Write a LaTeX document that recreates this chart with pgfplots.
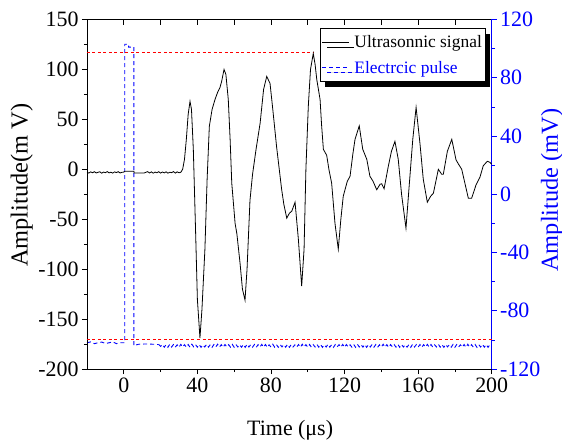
\documentclass[border=0pt]{standalone}
\usepackage{fontspec}
\setmainfont{Liberation Serif}
\usepackage{pgfplots}
\pgfplotsset{compat=1.18}
\usetikzlibrary{shadows}
\begin{document}
\begin{tikzpicture}
\pgfplotsset{
 common/.style={
  scale only axis, width=404.7bp, height=349.5bp,
  at={(0,0)}, anchor=south west,
  xmin=-20, xmax=200,
  tick label style={font=\fontsize{22}{24}\selectfont},
  major tick length=5bp, minor tick length=3bp,
  every tick/.style={line width=0.7bp},
  axis line style={line width=0.8bp},
  clip=false,
 }
}
% top axis ticks (inward)
\begin{axis}[common, ymin=0, ymax=1,
  axis x line*=top, hide y axis, tick align=inside,
  xtick={0,20,...,180}, xticklabels={}, major tick length=5.7bp,
  every tick/.style={line width=0.7bp,black}]
\end{axis}
% right axis, electric pulse
\begin{axis}[common, ymin=-120, ymax=120,
  axis y line*=right, hide x axis, tick align=outside,
  ytick={-120,-80,-40,0,40,80,120},
  yticklabels={-120,-80,-40,0,40,80,120},
  minor y tick num=1,
  y axis line style={blue, line width=0.8bp},
  every tick/.style={line width=0.7bp,blue},
  yticklabel style={text=blue},
  ylabel={Amplitude (mV)},
  every axis y label/.style={at={(axis description cs:1.149,0.512)}, rotate=90, anchor=center,
     font=\fontsize{24.5}{26}\selectfont, text=blue},
]
\addplot[blue, line width=0.9bp, dash pattern=on 4bp off 3bp] coordinates {
(-20,-102)(-18,-101.4)(-16,-102.6)(-14,-102)(-12,-101.5)(-10,-102.5)(-8,-102)(-6,-101.4)(-4,-102.6)(-2,-102)(0.5,-102)
(0.5,103)(2.6,103)(2.6,101)(5.5,101)(5.5,-104)(8,-103)(12,-102.8)(16,-103)(19,-103.2)};
\addplot[blue, line width=0.9bp, dash pattern=on 4bp off 3bp] table[row sep=\\] {
x y\\
19 -103.2\\ 20 -104.5\\ 21 -103.2\\ 22 -105\\ 23 -103.3\\ 24 -105.1\\ 25 -103\\ 26 -104.9\\ 27 -103.2\\ 28 -105\\ 29 -103.4\\
30 -105.1\\ 31 -103.1\\ 32 -104.9\\ 33 -103.3\\ 34 -105\\ 35 -103.2\\ 36 -105.1\\ 37 -103\\ 38 -104.8\\ 39 -103.3\\
40 -105\\ 41 -103.2\\ 42 -105.1\\ 43 -103.4\\ 44 -104.9\\ 45 -103.1\\ 46 -105\\ 47 -103.3\\ 48 -105.1\\ 49 -103.2\\
50 -104.9\\ 51 -103\\ 52 -105\\ 53 -103.3\\ 54 -105.1\\ 55 -103.2\\ 56 -104.8\\ 57 -103.3\\ 58 -105\\ 59 -103.1\\
60 -105.1\\ 61 -103.2\\ 62 -104.9\\ 63 -103.4\\ 64 -105\\ 65 -103.2\\ 66 -105.1\\ 67 -103\\ 68 -104.9\\ 69 -103.3\\
70 -105\\ 71 -103.2\\ 72 -105.1\\ 73 -103.3\\ 74 -104.9\\ 75 -103.1\\ 76 -105\\ 77 -103.2\\ 78 -105.1\\ 79 -103.4\\
80 -104.9\\ 81 -103\\ 82 -105\\ 83 -103.3\\ 84 -105.1\\ 85 -103.2\\ 86 -104.8\\ 87 -103.3\\ 88 -105\\ 89 -103.1\\
90 -105.1\\ 91 -103.2\\ 92 -104.9\\ 93 -103.4\\ 94 -105\\ 95 -103.2\\ 96 -105.1\\ 97 -103\\ 98 -104.9\\ 99 -103.3\\
100 -105\\ 101 -103.2\\ 102 -105.1\\ 103 -103.3\\ 104 -104.9\\ 105 -103.1\\ 106 -105\\ 107 -103.2\\ 108 -105.1\\ 109 -103.4\\
110 -104.9\\ 111 -103\\ 112 -105\\ 113 -103.3\\ 114 -105.1\\ 115 -103.2\\ 116 -104.8\\ 117 -103.3\\ 118 -105\\ 119 -103.1\\
120 -105.1\\ 121 -103.2\\ 122 -104.9\\ 123 -103.4\\ 124 -105\\ 125 -103.2\\ 126 -105.1\\ 127 -103\\ 128 -104.9\\ 129 -103.3\\
130 -105\\ 131 -103.2\\ 132 -105.1\\ 133 -103.3\\ 134 -104.9\\ 135 -103.1\\ 136 -105\\ 137 -103.2\\ 138 -105.1\\ 139 -103.4\\
140 -104.9\\ 141 -103\\ 142 -105\\ 143 -103.3\\ 144 -105.1\\ 145 -103.2\\ 146 -104.8\\ 147 -103.3\\ 148 -105\\ 149 -103.1\\
150 -105.1\\ 151 -103.2\\ 152 -104.9\\ 153 -103.4\\ 154 -105\\ 155 -103.2\\ 156 -105.1\\ 157 -103\\ 158 -104.9\\ 159 -103.3\\
160 -105\\ 161 -103.2\\ 162 -105.1\\ 163 -103.3\\ 164 -104.9\\ 165 -103.1\\ 166 -105\\ 167 -103.2\\ 168 -105.1\\ 169 -103.4\\
170 -104.9\\ 171 -103\\ 172 -105\\ 173 -103.3\\ 174 -105.1\\ 175 -103.2\\ 176 -104.8\\ 177 -103.3\\ 178 -105\\ 179 -103.1\\
180 -105.1\\ 181 -103.2\\ 182 -104.9\\ 183 -103.4\\ 184 -105\\ 185 -103.2\\ 186 -105.1\\ 187 -103\\ 188 -104.9\\ 189 -103.3\\
190 -105\\ 191 -103.2\\ 192 -105.1\\ 193 -103.3\\ 194 -104.9\\ 195 -103.1\\ 196 -105\\ 197 -103.2\\ 198 -105.1\\ 199 -103.4\\ 200 -104.5\\
};
\end{axis}
% left axis, ultrasonic signal
\begin{axis}[common, ymin=-200, ymax=150,
  axis x line*=bottom, axis y line*=left, tick align=outside,
  xtick={0,40,80,120,160,200}, xticklabels={0,40,80,120,160,200}, minor x tick num=1,
  ytick={-200,-150,-100,-50,0,50,100,150},
  yticklabels={-200,-150,-100,-50,0,50,100,150},
  minor y tick num=1,
  xlabel={Time (μs)}, ylabel={Amplitude(m V)},
  every axis x label/.style={at={(axis description cs:0.502,-0.175)}, anchor=center,
     font=\fontsize{22}{24}\selectfont},
  every axis y label/.style={at={(axis description cs:-0.161,0.526)}, rotate=90, anchor=center,
     font=\fontsize{24.5}{26}\selectfont},
  legend style={at={(axis description cs:0.985,0.975)}, anchor=north east,
    draw=black, line width=0.6bp, fill=white,
    font=\fontsize{17.5}{19}\selectfont,
    inner xsep=1.5bp, inner ysep=5bp, row sep=8bp,
    drop shadow={shadow xshift=5bp, shadow yshift=-5bp, fill=black, opacity=1}},
  legend cell align=left,
  legend image code/.code={\draw[#1] (0bp,0bp) -- (27bp,0bp); \path (30bp,0bp);},
]
\addplot[red, line width=0.8bp, dash pattern=on 3bp off 2.5bp, forget plot] coordinates {(-20,117)(103,117)};
\addplot[red, line width=0.8bp, dash pattern=on 3bp off 2.5bp, forget plot] coordinates {(-20,-170)(200,-170)};
\addplot[black, line width=0.8bp] coordinates {
(-20,-3)(-19,-3.8)(-18,-2.6)(-17,-3.5)(-16,-2.4)(-15,-3.7)(-14,-3.0)(-13,-2.5)(-12,-3.9)(-11,-2.8)(-10,-3.4)
(-9,-2.3)(-8,-3.6)(-7,-2.9)(-6,-3.8)(-5,-2.6)(-4,-3.3)(-3,-2.4)(-2,-3.7)(-1,-3.0)(0,-2.8)(0.6,-2.0)(5.5,-2.0)
(5.6,-3.8)(11,-3.8)(12,-3.0)(13,-2.4)(14,-3.7)(15,-2.6)(16,-3.9)(17,-2.8)(18,-3.5)(19,-2.4)(20,-3.8)(21,-2.7)
(22,-3.6)(23,-2.5)(24,-3.9)(25,-2.9)(26,-3.4)(27,-2.3)(28,-3.8)(29,-2.6)(30,-3.5)(31,-3.0)(32,0)(33,10)(34,30)
(35,55)(36,68)(36.8,60)(37.8,20)(39,-60)(40,-130)(41.4,-169)(42.5,-140)(44.1,-80)(45.3,-10)(46.5,43)(48,60)
(49.6,70)(51,77)(52.3,82)(53.2,88)(54.5,100)(55.5,95)(56.8,70)(57.8,30)(58.7,-14)(60.5,-54)(61.5,-65)(63.2,-94)
(64.5,-120)(65.9,-131)(67,-100)(68.6,-31)(70,-5)(71.9,20)(74.1,46)(76,80)(77.7,93)(79.5,86)(81,60)(83.1,22)
(85.8,-20)(87,-35)(88.6,-49)(90,-44)(91.3,-42)(93.1,-33)(94.9,-70)(96.7,-117)(98,-80)(99,0)(100.3,63)(101.5,100)
(103,116)(104,105)(104.9,90)(106.7,70)(107.5,45)(108.5,20)(110.3,14)(111.5,0)(113,-14)(114.8,-54)(116.6,-80)
(118,-50)(119.3,-27)(121.5,-12)(123,-7)(124.5,15)(125.7,30)(128,43.5)(129.9,20)(132.1,10)(133.8,-7)(135.5,-12)
(137.5,-20.5)(139.3,-15)(140.2,-14.5)(141.5,-19.5)(143.8,3)(145.5,18)(147.4,28)(149.2,10)(151,-25)(153.4,-59)
(155,-20)(157.1,30)(158.9,62)(161,26)(162.8,-10)(165,-33)(166.8,-27)(168.3,-24)(171,0)(172.8,-5)(173.7,-5)
(175.9,18)(178.3,30)(180.6,9.5)(182,5)(183.7,0)(187.3,-29)(189.1,-29)(191.5,-15.5)(193.6,-8)(195.4,3.5)
(197.6,8)(199,7)(200,5)};
\addlegendentry{Ultrasonnic signal}
\addlegendimage{blue, line width=0.9bp, dash pattern=on 4bp off 3bp}
\addlegendentry{\textcolor{blue}{Electrcic pulse}}
\end{axis}
\pgfresetboundingbox
\path (-87bp,-73bp) rectangle (475bp,369bp);
\end{tikzpicture}
\end{document}
